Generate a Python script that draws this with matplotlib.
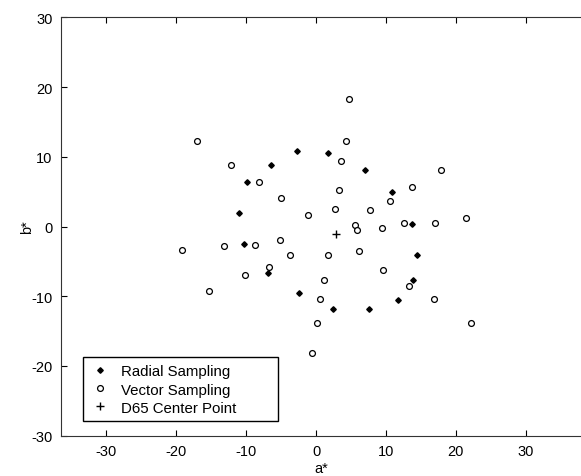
import matplotlib.pyplot as plt
from matplotlib.patches import Rectangle

plt.rcParams['font.family'] = ['Liberation Sans', 'DejaVu Sans']
plt.rcParams['axes.unicode_minus'] = False

# radial sampling (filled diamonds)
radial_a = [-2.7, -6.5, -9.9, -11.1, 1.7, 7.0, 10.8, 13.7, 14.5, 13.8, 11.7, 7.5, 2.4, -2.5, -6.9, -10.3]
radial_b = [10.8, 8.8, 6.4, 2.0, 10.6, 8.1, 4.9, 0.3, -4.1, -7.6, -10.6, -11.8, -11.8, -9.5, -6.6, -2.5]

# vector sampling (open circles)
vector_a = [-17.1, -12.2, -8.1, -5.0, -1.1, 4.7, 4.3, 3.6, 17.9, 3.3, 13.7, 10.6, 2.7, 7.7,
            21.5, 5.5, 5.8, 9.4, 12.6, 17.0, 1.7, 6.2, 9.6, 1.1, 13.3, 0.5, 16.8, 0.1,
            22.1, -0.6, -19.2, -13.2, -8.8, -5.2, -3.8, -6.7, -10.2, -15.3]
vector_b = [12.3, 8.8, 6.4, 4.1, 1.6, 18.3, 12.2, 9.4, 8.1, 5.3, 5.6, 3.7, 2.5, 2.3,
            1.2, 0.2, -0.5, -0.15, 0.5, 0.5, -4.1, -3.5, -6.2, -7.6, -8.6, -10.4, -10.4, -13.9,
            -13.9, -18.1, -3.35, -2.8, -2.7, -1.9, -4.1, -5.8, -7.0, -9.3]

# D65 center
d65_a = [2.9]
d65_b = [-1.05]

fig = plt.figure(figsize=(5.81, 4.77), dpi=100)
ax = fig.add_axes([0.105, 0.0845, 0.895, 0.877])

ax.plot(radial_a, radial_b, linestyle='none', marker='D', markersize=2.8,
        color='black', label='Radial Sampling')
ax.plot(vector_a, vector_b, linestyle='none', marker='o', markersize=4.2,
        markerfacecolor='white', markeredgecolor='black', markeredgewidth=0.9,
        label='Vector Sampling')
ax.plot(d65_a, d65_b, linestyle='none', marker='+', markersize=6,
        markeredgewidth=1.0, color='black', label='D65 Center Point')

ax.set_xlim(-36.5, 37.9)
ax.set_ylim(-30, 30)
ax.set_xticks([-30, -20, -10, 0, 10, 20, 30])
ax.set_yticks([-30, -20, -10, 0, 10, 20, 30])
ax.tick_params(direction='in', length=4, top=True, right=False, labelsize=10.5, pad=6)
ax.spines['right'].set_visible(False)
for s in ['left', 'top', 'bottom']:
    ax.spines[s].set_color('#333333')

ax.set_xlabel('a*', fontsize=10.5, labelpad=2)
ax.set_ylabel('b*', fontsize=10.5, labelpad=-2)

# legend without its own frame, box drawn wider like the original
leg = ax.legend(loc='upper left', bbox_to_anchor=(0.052, 0.181), borderaxespad=0,
                fontsize=10.8, frameon=False,
                handlelength=1.0, handletextpad=0.9, labelspacing=0.27,
                borderpad=0.3)
ax.add_patch(Rectangle((0.0423, 0.0344), 0.375, 0.1536, transform=ax.transAxes,
                       fill=False, edgecolor='black', linewidth=1.0, zorder=5))

fig.savefig('out.png', dpi=100)
